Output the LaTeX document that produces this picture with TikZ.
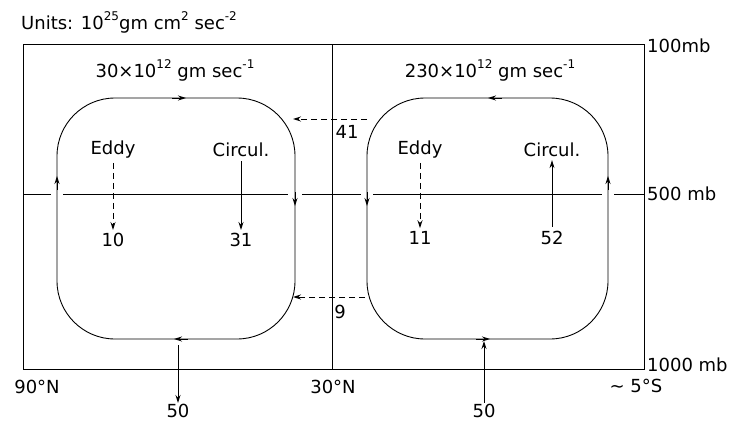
\documentclass[tikz,border=0pt]{standalone}
\usepackage{fontspec}
\setmainfont{DejaVu Sans}
\usetikzlibrary{arrows.meta}
\newcommand\sups[1]{\raisebox{0.5em}{\fontsize{12}{12}\selectfont #1}}

\begin{document}
\begin{tikzpicture}[x=1pt, y=-1pt,
  every node/.style={font=\fontsize{18}{20}\selectfont, inner sep=1pt},
  frame/.style={line width=1pt},
  cell/.style={line width=0.9pt, rounded corners=58pt},
  tip/.style={-{Stealth[length=8pt,width=5pt]}, line width=0.9pt},
  dsh/.style={dash pattern=on 6pt off 4pt},
  flux/.style={tip, shorten >=2pt, shorten <=3pt}]
  % mean meridional cells, 100--1000 mb
  \useasboundingbox (0,0) rectangle (736,423);
  \draw[frame] (23,44) rectangle (644,369);
  \draw[frame] (332,44) -- (332,369);
  \foreach \a/\b in {23/51,63/288,302/361,373/602,614/644}
    \draw[frame] (\a,194) -- (\b,194);

  \node[anchor=west] (units) at (20,22) {Units: 10\sups{25}gm cm\sups{2} sec\sups{-2}};
  \node (massL) at (175,70) {30×10\sups{12} gm sec\sups{-1}};
  \node (massR) at (490,70) {230×10\sups{12} gm sec\sups{-1}};
  \node[anchor=west] (p100) at (646,46) {100mb};
  \node[anchor=west] (p500) at (646,194) {500 mb};
  \node[anchor=west] (p1000) at (646,365) {1000 mb};
  \node (lat90) at (37,387) {90°N};
  \node (lat30) at (333,387) {30°N};
  \node (lat5) at (636,386) {\textasciitilde\ 5°S};

  % the two cells
  \draw[cell] (57,98) rectangle (295,339);
  \draw[cell] (367,98) rectangle (608,339);
  \foreach \x/\y/\u/\v in {172/98/186/98, 295/192/295/206, 188/339/174/339, 57/190/57/176,
                           502/98/488/98, 367/192/367/206, 476/339/490/339, 608/190/608/176}
    \draw[tip] (\x,\y) -- (\u,\v);

  % vertical fluxes at 500 mb
  \node (eddyL) at (113,150) {Eddy};
  \node (circL) at (241,150) {Circul.};
  \node (eddyR) at (420,150) {Eddy};
  \node (circR) at (552,150) {Circul.};
  \node (vL10) at (113,240) {10};
  \node (vL31) at (241,240) {31};
  \node (vR11) at (420,238) {11};
  \node (vR52) at (552,238) {52};
  \draw[flux, dsh] (eddyL) -- (vL10);
  \draw[flux] (circL) -- (vL31);
  \draw[flux, dsh] (eddyR) -- (vR11);
  \draw[flux] (vR52) -- (circR);

  % transfer across 30N
  \coordinate (hiE) at (367,119);
  \coordinate (hiW) at (293,119);
  \coordinate (loE) at (365,297);
  \coordinate (loW) at (293,297);
  \node (t41) at (347,132) {41};
  \node (t9) at (340,312) {9};
  \draw[tip, dsh] (hiE) -- (hiW);
  \draw[tip, dsh] (loE) -- (loW);

  % surface fluxes
  \coordinate (sfcL) at (178,345);
  \coordinate (sfcR) at (484,341);
  \node (bL50) at (178,411) {50};
  \node (bR50) at (484,411) {50};
  \draw[tip] (sfcL) -- (bL50);
  \draw[tip] (bR50) -- (sfcR);
\end{tikzpicture}
\end{document}
